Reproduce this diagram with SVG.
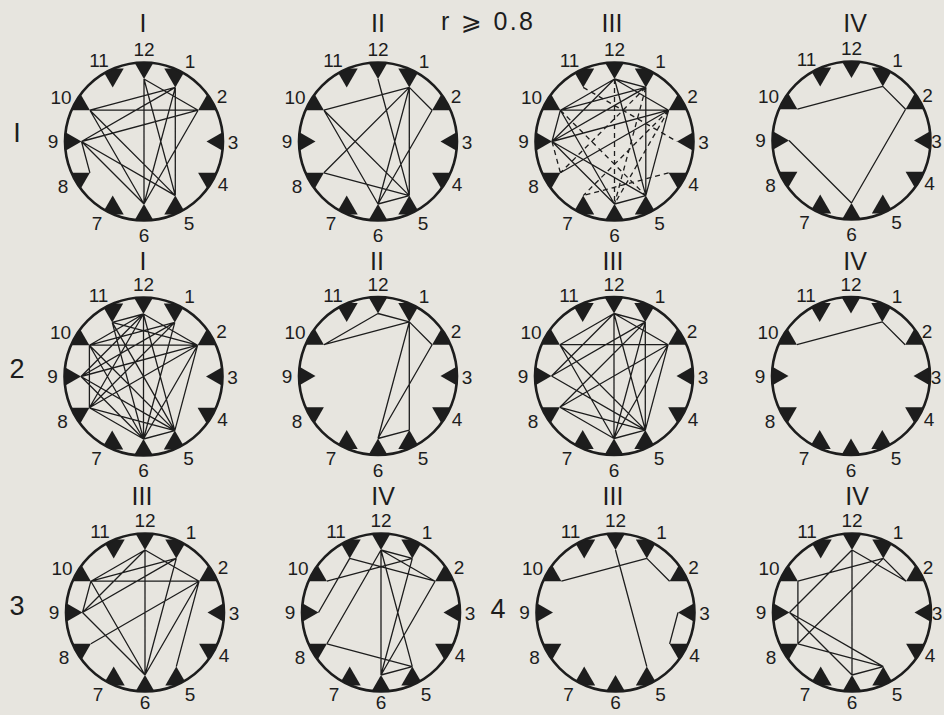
<svg xmlns="http://www.w3.org/2000/svg" xmlns:xlink="http://www.w3.org/1999/xlink" width="944" height="715" viewBox="0 0 944 715">
<style>
text{font-family:"Liberation Sans","DejaVu Sans",sans-serif;fill:#1d1d1d;text-anchor:middle}
.n{font-size:19px;dominant-baseline:central}
.c{font-size:25px}
.rl{font-size:27px}
.e path{stroke:#1d1d1d;stroke-width:1.3;fill:none}
.e path.d{stroke-dasharray:5 4}
</style>
<defs>
<clipPath id="cc"><circle r="79"/></clipPath>
<g id="dial">
<g clip-path="url(#cc)" fill="#1d1d1d">
<polygon points="0,-62.5 -11,-81.5 11,-81.5"/>
<polygon points="31.3,-54.1 20.3,-73.1 42.3,-73.1"/>
<polygon points="54.1,-31.3 76.1,-31.3 65.1,-50.3"/>
<polygon points="62.5,0 81.5,-11 81.5,11"/>
<polygon points="54.1,31.3 76.1,31.3 65.1,50.3"/>
<polygon points="31.3,54.1 20.3,73.1 42.3,73.1"/>
<polygon points="0,62.5 -11,81.5 11,81.5"/>
<polygon points="-31.3,54.1 -42.3,73.1 -20.3,73.1"/>
<polygon points="-54.1,31.3 -76.1,31.3 -65.1,50.3"/>
<polygon points="-62.5,0 -81.5,-11 -81.5,11"/>
<polygon points="-54.1,-31.3 -76.1,-31.3 -65.1,-50.3"/>
<polygon points="-31.3,-54.1 -42.3,-73.1 -20.3,-73.1"/>
</g>
<circle r="79" fill="none" stroke="#1d1d1d" stroke-width="2.6"/>
</g>
</defs>
<rect width="944" height="715" fill="#e7e5df"/>

<g id="titles">
<text class="c" x="441" y="30" textLength="92" lengthAdjust="spacing" style="text-anchor:start">r ⩾ 0.8</text>
<text class="c" x="143" y="32">I</text>
<text class="c" x="378" y="32">II</text>
<text class="c" x="612" y="32">III</text>
<text class="c" x="855" y="32">IV</text>
<text class="c" x="143" y="270">I</text>
<text class="c" x="377" y="270">II</text>
<text class="c" x="613" y="270">III</text>
<text class="c" x="855" y="270">IV</text>
<text class="c" x="142" y="505">III</text>
<text class="c" x="383" y="505">IV</text>
<text class="c" x="613" y="505">III</text>
<text class="c" x="857" y="505">IV</text>
<text class="rl" x="17" y="142">I</text>
<text class="rl" x="17" y="378">2</text>
<text class="rl" x="17" y="615">3</text>
<text class="rl" x="498" y="618">4</text>
</g>

<g id="d1-I" transform="translate(144 141.5)"><use xlink:href="#dial" href="#dial"/>
<g><text class="n" x="0" y="-92">12</text><text class="n" x="46" y="-80">1</text><text class="n" x="78" y="-45">2</text><text class="n" x="89" y="1">3</text><text class="n" x="79" y="43">4</text><text class="n" x="45" y="82">5</text><text class="n" x="0" y="94">6</text><text class="n" x="-47" y="82">7</text><text class="n" x="-81" y="45">8</text><text class="n" x="-91" y="0">9</text><text class="n" x="-83" y="-44">10</text><text class="n" x="-45" y="-81">11</text></g></g>

<g id="d1-II" transform="translate(378 141.5)"><use xlink:href="#dial" href="#dial"/>
<g><text class="n" x="0" y="-92">12</text><text class="n" x="46" y="-80">1</text><text class="n" x="78" y="-45">2</text><text class="n" x="89" y="1">3</text><text class="n" x="79" y="43">4</text><text class="n" x="45" y="82">5</text><text class="n" x="0" y="94">6</text><text class="n" x="-47" y="82">7</text><text class="n" x="-81" y="45">8</text><text class="n" x="-91" y="0">9</text><text class="n" x="-83" y="-44">10</text><text class="n" x="-45" y="-81">11</text></g></g>

<g id="d1-III" transform="translate(614.5 141.5)"><use xlink:href="#dial" href="#dial"/>
<g><text class="n" x="0" y="-92">12</text><text class="n" x="46" y="-80">1</text><text class="n" x="78" y="-45">2</text><text class="n" x="89" y="1">3</text><text class="n" x="79" y="43">4</text><text class="n" x="45" y="82">5</text><text class="n" x="0" y="94">6</text><text class="n" x="-47" y="82">7</text><text class="n" x="-81" y="45">8</text><text class="n" x="-91" y="0">9</text><text class="n" x="-83" y="-44">10</text><text class="n" x="-45" y="-81">11</text></g></g>

<g id="d1-IV" transform="translate(851.5 140.5)"><use xlink:href="#dial" href="#dial"/>
<g><text class="n" x="0" y="-92">12</text><text class="n" x="46" y="-80">1</text><text class="n" x="76" y="-45">2</text><text class="n" x="85" y="1">3</text><text class="n" x="78" y="43">4</text><text class="n" x="45" y="82">5</text><text class="n" x="0" y="94">6</text><text class="n" x="-47" y="82">7</text><text class="n" x="-81" y="45">8</text><text class="n" x="-91" y="0">9</text><text class="n" x="-83" y="-44">10</text><text class="n" x="-45" y="-81">11</text></g></g>

<g id="d2-I" transform="translate(143.5 376.5)"><use xlink:href="#dial" href="#dial"/>
<g><text class="n" x="0" y="-92">12</text><text class="n" x="46" y="-80">1</text><text class="n" x="78" y="-45">2</text><text class="n" x="89" y="1">3</text><text class="n" x="79" y="43">4</text><text class="n" x="45" y="82">5</text><text class="n" x="0" y="94">6</text><text class="n" x="-47" y="82">7</text><text class="n" x="-81" y="45">8</text><text class="n" x="-91" y="0">9</text><text class="n" x="-83" y="-44">10</text><text class="n" x="-45" y="-81">11</text></g></g>

<g id="d2-II" transform="translate(378 376)"><use xlink:href="#dial" href="#dial"/>
<g><text class="n" x="0" y="-92">12</text><text class="n" x="46" y="-80">1</text><text class="n" x="78" y="-45">2</text><text class="n" x="89" y="1">3</text><text class="n" x="79" y="43">4</text><text class="n" x="45" y="82">5</text><text class="n" x="0" y="94">6</text><text class="n" x="-47" y="82">7</text><text class="n" x="-81" y="45">8</text><text class="n" x="-91" y="0">9</text><text class="n" x="-83" y="-44">10</text><text class="n" x="-45" y="-81">11</text></g></g>

<g id="d2-III" transform="translate(614 376)"><use xlink:href="#dial" href="#dial"/>
<g><text class="n" x="0" y="-92">12</text><text class="n" x="46" y="-80">1</text><text class="n" x="78" y="-45">2</text><text class="n" x="89" y="1">3</text><text class="n" x="79" y="43">4</text><text class="n" x="45" y="82">5</text><text class="n" x="0" y="94">6</text><text class="n" x="-47" y="82">7</text><text class="n" x="-81" y="45">8</text><text class="n" x="-91" y="0">9</text><text class="n" x="-83" y="-44">10</text><text class="n" x="-45" y="-81">11</text></g></g>

<g id="d2-IV" transform="translate(851 376)"><use xlink:href="#dial" href="#dial"/>
<g><text class="n" x="0" y="-92">12</text><text class="n" x="46" y="-80">1</text><text class="n" x="76" y="-45">2</text><text class="n" x="85" y="1">3</text><text class="n" x="78" y="43">4</text><text class="n" x="45" y="82">5</text><text class="n" x="0" y="94">6</text><text class="n" x="-47" y="82">7</text><text class="n" x="-81" y="45">8</text><text class="n" x="-91" y="0">9</text><text class="n" x="-83" y="-44">10</text><text class="n" x="-45" y="-81">11</text></g></g>

<g id="d3-III" transform="translate(145 612.5)"><use xlink:href="#dial" href="#dial"/>
<g><text class="n" x="0" y="-92">12</text><text class="n" x="46" y="-80">1</text><text class="n" x="78" y="-45">2</text><text class="n" x="89" y="1">3</text><text class="n" x="79" y="43">4</text><text class="n" x="45" y="82">5</text><text class="n" x="0" y="90">6</text><text class="n" x="-47" y="82">7</text><text class="n" x="-81" y="45">8</text><text class="n" x="-91" y="0">9</text><text class="n" x="-83" y="-44">10</text><text class="n" x="-45" y="-81">11</text></g></g>

<g id="d3-IV" transform="translate(381 612.5)"><use xlink:href="#dial" href="#dial"/>
<g><text class="n" x="0" y="-92">12</text><text class="n" x="46" y="-80">1</text><text class="n" x="78" y="-45">2</text><text class="n" x="89" y="1">3</text><text class="n" x="79" y="43">4</text><text class="n" x="45" y="82">5</text><text class="n" x="0" y="90">6</text><text class="n" x="-47" y="82">7</text><text class="n" x="-81" y="45">8</text><text class="n" x="-91" y="0">9</text><text class="n" x="-83" y="-44">10</text><text class="n" x="-45" y="-81">11</text></g></g>

<g id="d4-III" transform="translate(615.5 612.5)"><use xlink:href="#dial" href="#dial"/>
<g><text class="n" x="0" y="-92">12</text><text class="n" x="46" y="-80">1</text><text class="n" x="78" y="-45">2</text><text class="n" x="89" y="1">3</text><text class="n" x="79" y="43">4</text><text class="n" x="45" y="82">5</text><text class="n" x="0" y="90">6</text><text class="n" x="-47" y="82">7</text><text class="n" x="-81" y="45">8</text><text class="n" x="-91" y="0">9</text><text class="n" x="-83" y="-44">10</text><text class="n" x="-45" y="-81">11</text></g></g>

<g id="d4-IV" transform="translate(852 612.5)"><use xlink:href="#dial" href="#dial"/>
<g><text class="n" x="0" y="-92">12</text><text class="n" x="46" y="-80">1</text><text class="n" x="76" y="-45">2</text><text class="n" x="85" y="1">3</text><text class="n" x="78" y="43">4</text><text class="n" x="45" y="82">5</text><text class="n" x="0" y="90">6</text><text class="n" x="-47" y="82">7</text><text class="n" x="-81" y="45">8</text><text class="n" x="-91" y="0">9</text><text class="n" x="-83" y="-44">10</text><text class="n" x="-45" y="-81">11</text></g></g>

<g id="connectors" class="e">
<g transform="translate(144 141.5)"><path d="M-54.1 -31.3L54.1 -31.3M0 -62.5L0 62.5M0 -62.5L54.1 -31.3M0 -62.5L31.3 54.1M31.3 -54.1L-54.1 -31.3M31.3 -54.1L-62.5 0M31.3 -54.1L0 62.5M31.3 -54.1L31.3 54.1M54.1 -31.3L-62.5 0M54.1 -31.3L0 62.5M-62.5 0L31.3 54.1M-62.5 0L0 62.5M-54.1 -31.3L0 62.5M-54.1 -31.3L31.3 54.1M-62.5 0L-54.1 31.3"/></g>
<g transform="translate(378 141.5)"><path d="M-54.1 -31.3L31.3 -54.1M-54.1 -31.3L31.3 54.1M-54.1 -31.3L0 62.5M0 -62.5L31.3 54.1M31.3 -54.1L54.1 -31.3M31.3 -54.1L-54.1 31.3M31.3 -54.1L0 62.5M31.3 -54.1L31.3 54.1M54.1 -31.3L0 62.5M-54.1 31.3L31.3 54.1M0 62.5L31.3 54.1"/></g>
<g transform="translate(614.5 141.5)"><path d="M-54.1 -31.3L54.1 -31.3M0 -62.5L54.1 -31.3M0 -62.5L-62.5 0M0 -62.5L-54.1 -31.3M0 -62.5L31.3 54.1M0 -62.5L31.3 -54.1M31.3 -54.1L31.3 54.1M31.3 -54.1L-62.5 0M31.3 -54.1L-54.1 -31.3M54.1 -31.3L-62.5 0M54.1 -31.3L-54.1 31.3M54.1 -31.3L31.3 54.1M-62.5 0L31.3 54.1M-62.5 0L0 62.5M-54.1 -31.3L0 62.5M-54.1 -31.3L-62.5 0M0 62.5L31.3 54.1"/>
<path class="d" d="M0 -62.5L0 62.5M31.3 -54.1L0 62.5M31.3 -54.1L-54.1 31.3M54.1 -31.3L0 62.5M54.1 -31.3L-31.3 54.1M-31.3 -54.1L62.5 0M-62.5 0L-54.1 31.3M54.1 31.3L-31.3 54.1M-54.1 -31.3L31.3 54.1"/></g>
<g transform="translate(851.5 140.5)"><path d="M-54.1 -31.3L31.3 -54.1M31.3 -54.1L54.1 -31.3M54.1 -31.3L0 62.5M-62.5 0L0 62.5"/></g>
<g transform="translate(143.5 376.5)"><path d="M0 -62.5L54.1 -31.3M0 -62.5L-54.1 -31.3M0 -62.5L-62.5 0M0 -62.5L-54.1 31.3M0 -62.5L0 62.5M0 -62.5L31.3 54.1M0 -62.5L-31.3 -54.1M-31.3 -54.1L54.1 -31.3M-31.3 -54.1L31.3 54.1M-31.3 -54.1L0 62.5M31.3 -54.1L-54.1 -31.3M31.3 -54.1L-62.5 0M31.3 -54.1L-54.1 31.3M31.3 -54.1L0 62.5M54.1 -31.3L-54.1 -31.3M54.1 -31.3L-62.5 0M54.1 -31.3L-54.1 31.3M54.1 -31.3L0 62.5M54.1 -31.3L31.3 54.1M-54.1 -31.3L0 62.5M-54.1 -31.3L31.3 54.1M-54.1 -31.3L-54.1 31.3M-62.5 0L31.3 54.1M-62.5 0L0 62.5M-54.1 31.3L31.3 54.1M-54.1 31.3L0 62.5M0 62.5L31.3 54.1"/></g>
<g transform="translate(378 376)"><path d="M-54.1 -31.3L0 -62.5M-54.1 -31.3L31.3 -54.1M0 -62.5L31.3 -54.1M31.3 -54.1L54.1 -31.3M31.3 -54.1L0 62.5M31.3 -54.1L31.3 54.1M54.1 -31.3L0 62.5M0 62.5L31.3 54.1"/></g>
<g transform="translate(614 376)"><path d="M-54.1 -31.3L54.1 -31.3M0 -62.5L54.1 -31.3M0 -62.5L-54.1 -31.3M0 -62.5L-62.5 0M0 -62.5L0 62.5M0 -62.5L31.3 54.1M0 -62.5L31.3 -54.1M31.3 -54.1L-54.1 31.3M31.3 -54.1L-62.5 0M31.3 -54.1L31.3 54.1M31.3 -54.1L0 62.5M54.1 -31.3L-54.1 31.3M54.1 -31.3L0 62.5M54.1 -31.3L31.3 54.1M-54.1 -31.3L0 62.5M-54.1 -31.3L31.3 54.1M-62.5 0L31.3 54.1M-54.1 31.3L0 62.5M-54.1 31.3L31.3 54.1M0 62.5L31.3 54.1"/></g>
<g transform="translate(851 376)"><path d="M-54.1 -31.3L31.3 -54.1M31.3 -54.1L54.1 -31.3"/></g>
<g transform="translate(145 612.5)"><path d="M-54.1 -31.3L54.1 -31.3M0 -62.5L0 62.5M0 -62.5L54.1 -31.3M0 -62.5L-54.1 -31.3M0 -62.5L-62.5 0M31.3 -54.1L-54.1 -31.3M31.3 -54.1L-62.5 0M31.3 -54.1L0 62.5M54.1 -31.3L-54.1 31.3M54.1 -31.3L0 62.5M54.1 -31.3L31.3 54.1M-54.1 -31.3L-62.5 0M-54.1 -31.3L0 62.5M-62.5 0L0 62.5"/></g>
<g transform="translate(381 612.5)"><path d="M0 -62.5L0 62.5M0 -62.5L54.1 -31.3M0 -62.5L31.3 54.1M0 -62.5L-54.1 31.3M-31.3 -54.1L54.1 -31.3M-54.1 -31.3L31.3 -54.1M-62.5 0L-31.3 -54.1M31.3 -54.1L0 62.5M54.1 -31.3L0 62.5M-54.1 31.3L31.3 54.1M0 62.5L31.3 54.1M0 -62.5L31.3 -54.1"/></g>
<g transform="translate(615.5 612.5)"><path d="M-54.1 -31.3L31.3 -54.1M31.3 -54.1L54.1 -31.3M0 -62.5L31.3 54.1M62.5 0L54.1 31.3"/></g>
<g transform="translate(852 612.5)"><path d="M0 -62.5L0 62.5M0 -62.5L54.1 -31.3M0 -62.5L-62.5 0M-54.1 -31.3L31.3 -54.1M-54.1 -31.3L-54.1 31.3M-54.1 31.3L31.3 -54.1M-62.5 0L31.3 54.1M-62.5 0L0 62.5M-54.1 31.3L31.3 54.1M0 62.5L31.3 54.1M31.3 -54.1L54.1 -31.3"/></g>
</g>
</svg>
